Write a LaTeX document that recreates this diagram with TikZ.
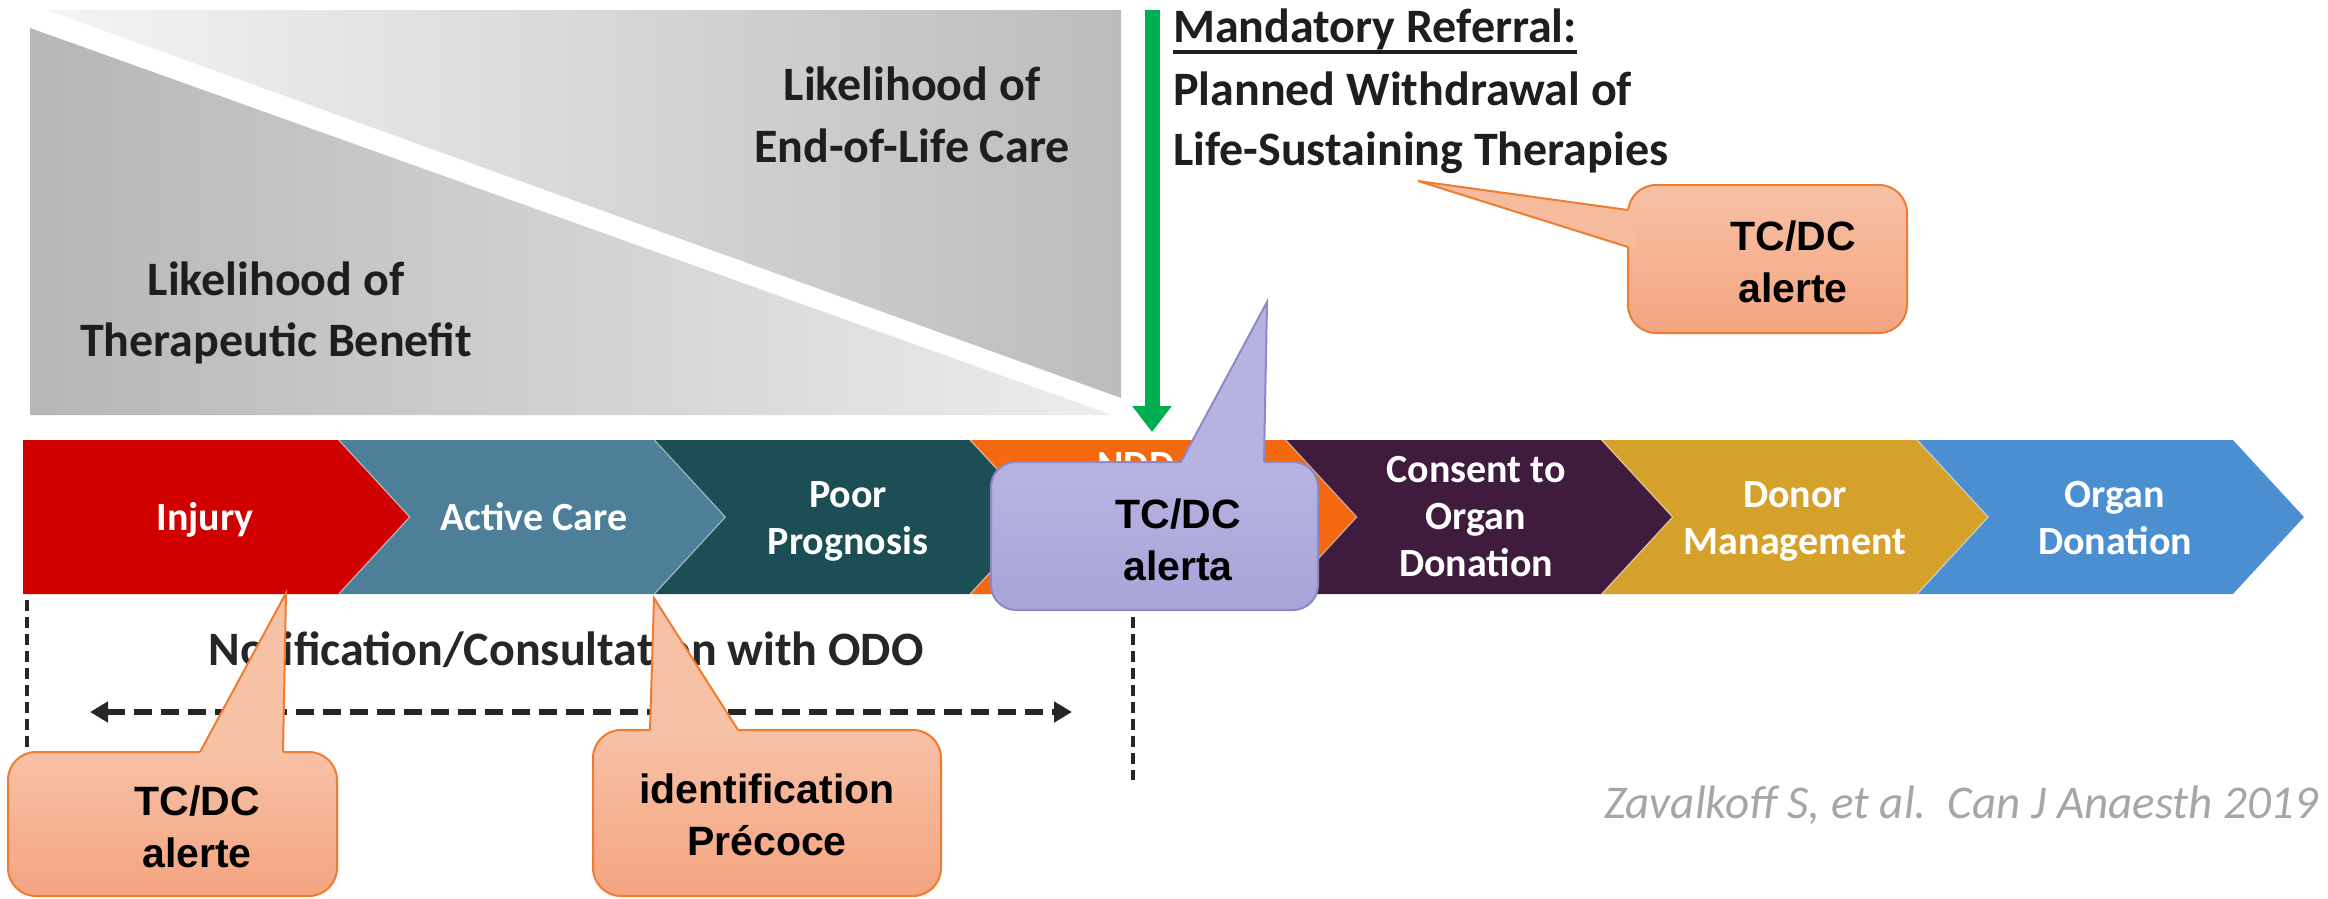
\documentclass[tikz,border=0pt]{standalone}
\usepackage{fontspec}
\setmainfont{Carlito}
\newfontfamily\arialfont{Liberation Sans}
\usetikzlibrary{arrows.meta}
\definecolor{cRed}{HTML}{D00000}
\definecolor{cActive}{HTML}{4D7F98}
\definecolor{cPoor}{HTML}{1C4E55}
\definecolor{cOrange}{HTML}{F4680F}
\definecolor{cPurple}{HTML}{3F1B3E}
\definecolor{cGold}{HTML}{D5A12B}
\definecolor{cBlue}{HTML}{4B8FD0}
\definecolor{cGreen}{HTML}{00B050}
\definecolor{gDark}{HTML}{B6B6B6}
\definecolor{gLight}{HTML}{EDEDED}
\definecolor{gDarkR}{HTML}{BCBCBC}
\definecolor{gLightL}{HTML}{F4F4F4}
\definecolor{txtDark}{HTML}{1E1E1E}
\definecolor{coTop}{HTML}{F7C1A6}
\definecolor{coBot}{HTML}{F4A480}
\definecolor{coLine}{HTML}{ED7D31}
\definecolor{cuTop}{HTML}{B7B3E1}
\definecolor{cuBot}{HTML}{A9A4D9}
\definecolor{cuLine}{HTML}{8E88C9}
\definecolor{citeGray}{HTML}{A6A6A6}
\begin{document}
\begin{tikzpicture}[x=1pt,y=-1pt,
  paneltext/.style={inner sep=0pt, text=txtDark, font=\fontsize{48}{60}\selectfont\bfseries, anchor=base},
  chevlabel/.style={inner sep=0pt, text=white, align=center, font=\fontsize{40}{47}\selectfont\bfseries},
  calltext/.style={inner sep=0pt, text=black, align=center, font=\arialfont\fontsize{41}{52}\selectfont\bfseries},
  orangebox/.style={top color=coTop, bottom color=coBot},
  orangeline/.style={draw=coLine, line width=2pt, line join=miter},
  purplebox/.style={top color=cuTop, bottom color=cuBot},
  purpleline/.style={draw=cuLine, line width=2pt, line join=miter},
  vdash/.style={draw=black!85, line width=3.5pt, dash pattern=on 11pt off 6pt},
]
\clip (0,0) rectangle (2328,898);
\fill[white] (0,0) rectangle (2328,898);

% gray panel
\shade[left color=gLightL, right color=gDarkR] (47,10) -- (1121,10) -- (1121,398) -- cycle;
\shade[left color=gDark, right color=gLight] (30,28) -- (30,415) -- (1112,415) -- cycle;
\node[paneltext] (eol1) at (912,100) {Likelihood of};
\node[paneltext] (eol2) at (912,162) {End-of-Life Care};
\node[paneltext] (tb1) at (276,295) {Likelihood of};
\node[paneltext] (tb2) at (276,356) {Therapeutic Benefit};

% green arrow
\coordinate (gtop) at (1152,10);
\coordinate (gbot) at (1152,432);
\draw[draw=cGreen, line width=15pt, -{Triangle[length=26pt, width=38pt]}] (gtop) -- (gbot);

% mandatory referral
\node[paneltext, anchor=base west] (mr1) at (1173,42) {Mandatory Referral:};
\node[paneltext, anchor=base west] (mr2) at (1173,105) {Planned Withdrawal of};
\node[paneltext, anchor=base west] (mr3) at (1173,165) {Life-Sustaining Therapies};
\draw[txtDark, line width=4pt] ([yshift=-10pt]mr1.base west) -- ([yshift=-10pt]mr1.base east);

% chevrons
\foreach \i/\col in {0/cRed,1/cActive,2/cPoor,3/cOrange,4/cPurple,5/cGold,6/cBlue} {
  \pgfmathsetmacro\xa{23+315.7*\i}
  \pgfmathsetmacro\xb{23+315.7*(\i+1)}
  \ifnum\i=0
    \fill[\col] (\xa,440) -- (\xb,440) -- (\xb+71,517) -- (\xb,594) -- (\xa,594) -- cycle;
  \else
    \fill[\col] (\xa,440) -- (\xb,440) -- (\xb+71,517) -- (\xb,594) -- (\xa,594) -- (\xa+71,517) -- cycle;
    \draw[white, opacity=0.5, line width=1.2pt] (\xa,440) -- (\xa+71,517) -- (\xa,594);
  \fi
}
\node[chevlabel] (lInjury) at (205,520) {Injury};
\node[chevlabel] (lActive) at (534,517) {Active Care};
\node[chevlabel] (lPoor) at (848,521) {Poor\\Prognosis};
\node[chevlabel] (lNDD) at (1136,466) {NDD};
\node[chevlabel] (lConsent) at (1476,517) {Consent to\\Organ\\Donation};
\node[chevlabel] (lDonor) at (1795,521) {Donor\\Management};
\node[chevlabel] (lOrgan) at (2115,518) {Organ\\Donation};

% dashed verticals and notification
\coordinate (vl1) at (27,600); \coordinate (vl2) at (27,760);
\draw[vdash] (vl1) -- (vl2);
\coordinate (vr1) at (1133,600); \coordinate (vr2) at (1133,780);
\draw[vdash] (vr1) -- (vr2);
\node[paneltext, text=black!85] (notif) at (566,665) {Notification/Consultation with ODO};
\coordinate (dl) at (90,712); \coordinate (dr) at (1072,712);
\draw[black!85, line width=5.5pt, dash pattern=on 18pt off 9pt, {Triangle[length=18pt,width=20pt]}-{Triangle[length=18pt,width=20pt]}] (dl) -- (dr);

% citation
\node[inner sep=0pt, anchor=base west, text=citeGray, font=\fontsize{47}{56}\selectfont\itshape] (cite) at (1604,818) {Zavalkoff S, et al.\ \ Can J Anaesth 2019};

% callout top right
\shade[orangebox, rounded corners=28pt] (1628,185) rectangle (1907,333);
\draw[orangeline, rounded corners=28pt] (1628,185) rectangle (1907,333);
\coordinate (trTip) at (1418,181);
\fill[coTop!75!coBot] (trTip) -- (1628,210) -- (1634,210) -- (1634,247) -- (1628,247) -- cycle;
\draw[orangeline] (1628,210) -- (trTip) -- (1628,247);
\node[calltext] (trText) at (1793,262) {TC/DC\\alerte};

% callout purple
\shade[purplebox, rounded corners=25pt] (991,462) rectangle (1318,610);
\draw[purpleline, rounded corners=25pt] (991,462) rectangle (1318,610);
\coordinate (puTip) at (1267,302);
\fill[cuTop] (puTip) -- (1181,462) -- (1181,468) -- (1264,468) -- (1264,462) -- cycle;
\draw[purpleline] (1181,462) -- (puTip) -- (1264,462);
\node[calltext] (puText) at (1178,540) {TC/DC\\alerta};

% callout bottom left
\shade[orangebox, rounded corners=28pt] (8,752) rectangle (337,896);
\draw[orangeline, rounded corners=28pt] (8,752) rectangle (337,896);
\coordinate (blTip) at (286,593);
\fill[coTop] (blTip) -- (200,752) -- (200,758) -- (283,758) -- (283,752) -- cycle;
\draw[orangeline] (200,752) -- (blTip) -- (283,752);
\node[calltext] (blText) at (197,827) {TC/DC\\alerte};

% callout bottom middle
\shade[orangebox, rounded corners=28pt] (593,730) rectangle (941,896);
\draw[orangeline, rounded corners=28pt] (593,730) rectangle (941,896);
\coordinate (bmTip) at (654,598);
\fill[coTop] (bmTip) -- (650,730) -- (650,736) -- (738,736) -- (738,730) -- cycle;
\draw[orangeline] (650,730) -- (bmTip) -- (738,730);
\node[calltext] (bmText) at (767,815) {identification\\Précoce};
\end{tikzpicture}
\end{document}
